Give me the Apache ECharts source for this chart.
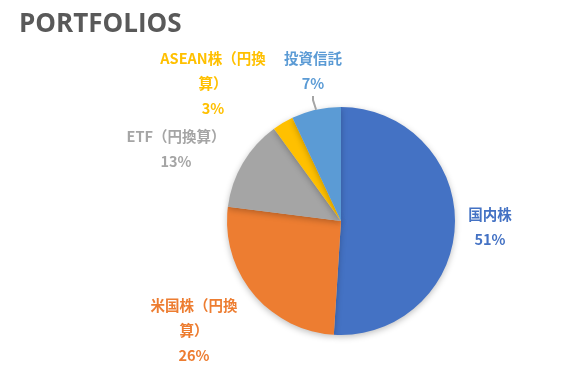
<!DOCTYPE html>
<html>
<head>
<meta charset="utf-8">
<script src="https://cdn.jsdelivr.net/npm/echarts@6/dist/echarts.min.js"></script>
<style>
html,body{margin:0;padding:0;background:#fff;}
#c{width:582px;height:383px;}
</style>
</head>
<body>
<div id="c"></div>
<script>
const categories = ['国内株', '米国株（円換算）', 'ETF（円換算）', 'ASEAN株（円換算）', '投資信託'];
const labelTexts = ['国内株', '米国株（円換\n算）', 'ETF（円換算）', 'ASEAN株（円換\n算）', '投資信託'];
const values = [51, 26, 13, 3, 7];
const colors = ['#4472C4', '#ED7D31', '#A5A5A5', '#FFC000', '#5B9BD5'];
const labelPos = [[490, 227], [194, 330], [176, 149], [213, 83], [313, 71]];

const chart = echarts.init(document.getElementById('c'));
chart.setOption({
  animation: false,
  title: {
    text: 'PORTFOLIOS',
    left: 14, top: 7,
    textStyle: { fontFamily: 'Open Sans', fontWeight: 'bold', fontSize: 26, color: '#595959' }
  },
  series: [{
    type: 'pie',
    center: [341, 221],
    radius: 114,
    startAngle: 90,
    clockwise: true,
    itemStyle: { shadowBlur: 6, shadowColor: 'rgba(0,0,0,0.25)', shadowOffsetY: 2 },
    label: {
      show: true,
      position: 'outside',
      fontFamily: 'Noto Sans CJK JP',
      fontWeight: 'bold',
      fontSize: 14.5,
      lineHeight: 25,
      align: 'center',
      formatter: p => labelTexts[p.dataIndex] + '\n' + p.value + '%'
    },
    labelLine: { show: true, length: 8, length2: 4, showAbove: true, lineStyle: { color: '#A5A5A5', width: 2 } },
    labelLayout: p => ({
      x: labelPos[p.dataIndex][0],
      y: labelPos[p.dataIndex][1],
      align: 'center',
      verticalAlign: 'middle'
    }),
    data: categories.map((n, i) => ({
      name: n,
      value: values[i],
      itemStyle: { color: colors[i] },
      label: { color: colors[i] },
      labelLine: { show: i === 4 }
    }))
  }]
});
</script>
</body>
</html>
